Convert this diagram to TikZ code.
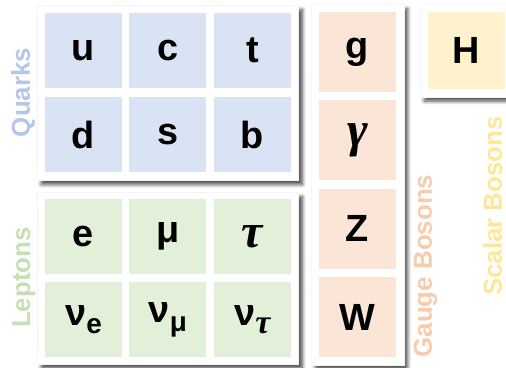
\documentclass[tikz,border=0pt]{standalone}
\usepackage{fontspec}
\setmainfont{Liberation Sans}
\newfontfamily\greekit{Liberation Serif}
\usepackage{xcolor}
\usetikzlibrary{positioning,fit,backgrounds,shadows.blur}

\definecolor{quarkfill}{RGB}{218,227,243}
\definecolor{quarktext}{RGB}{180,199,231}
\definecolor{leptonfill}{RGB}{226,240,217}
\definecolor{leptontext}{RGB}{197,224,180}
\definecolor{gaugefill}{RGB}{251,229,214}
\definecolor{gaugetext}{RGB}{248,203,173}
\definecolor{scalarfill}{RGB}{255,242,204}
\definecolor{scalartext}{RGB}{255,230,153}

\newcommand{\lowidx}[1]{\raisebox{-0.22em}{\fontsize{28}{28}\selectfont #1}}
\newcommand{\itgr}[2][48]{{\fontsize{#1}{#1}\selectfont\greekit\itshape\bfseries #2}}

\begin{document}
\begin{tikzpicture}[
    x=1bp, y=1bp,
    node distance=9bp and 7bp,
    cell/.style={rectangle, inner sep=0pt, minimum width=77bp, minimum height=75bp, font=\fontsize{38}{38}\selectfont\bfseries},
    qk/.style={cell, fill=quarkfill},
    lp/.style={cell, fill=leptonfill},
    gb/.style={cell, fill=gaugefill, minimum height=80bp},
    sb/.style={cell, fill=scalarfill, minimum height=77bp},
    panel/.style={rectangle, fill=white, draw=black!4, inner sep=7.5bp, blur shadow={shadow xshift=4bp, shadow yshift=-4.5bp, shadow blur radius=3.5bp, shadow blur steps=8, shadow opacity=70}},
    tag/.style={rotate=90, inner sep=0pt, font=\fontsize{26}{26}\selectfont\bfseries}
]
    \useasboundingbox (0,0) rectangle (506,-367);

    % quarks
    \node [qk] at (83.5,-50.5) (u) {u};
    \node [qk, right=of u] (c) {c};
    \node [qk, right=of c] (t) {t};
    \node [qk, below=of u] (d) {d};
    \node [qk, right=of d] (s) {s};
    \node [qk, right=of s] (b) {b};

    % leptons
    \node [lp, below=26bp of d] (e) {e};
    \node [lp, right=of e] (mu) {μ};
    \node [lp, right=of mu] (tau) {\itgr{τ}};
    \node [lp, below=8bp of e] (nue) {ν\lowidx{e}};
    \node [lp, right=of nue] (numu) {ν\lowidx{μ}};
    \node [lp, right=of numu] (nutau) {ν\lowidx{\itgr[34]{τ}}};

    % gauge bosons
    \node [gb] at (357.5,-52) (g) {g};
    \node [gb, below=8bp of g] (gam) {\itgr[50]{γ}};
    \node [gb, below=8bp of gam] (Z) {Z};
    \node [gb, below=8bp of Z] (W) {W};

    % scalar boson
    \node [sb] at (466.5,-50.5) (H) {H};

    \begin{scope}[on background layer]
        \node [panel, fit=(u)(b)] (quarks) {};
        \node [panel, fit=(e)(nutau), inner ysep=6.5bp] (leptons) {};
        \node [panel, fit=(g)(W)] (gauge) {};
        \node [panel, fit=(H)] (scalar) {};
    \end{scope}

    \node [tag, text=quarktext] at (23,-92.5) (lq) {Quarks};
    \node [tag, text=leptontext] at (24,-277.5) (ll) {Leptons};
    \node [tag, text=gaugetext] at (425.5,-266) (lg) {Gauge Bosons};
    \node [tag, text=scalartext] at (492.5,-206) (ls) {Scalar Bosons};
\end{tikzpicture}
\end{document}
